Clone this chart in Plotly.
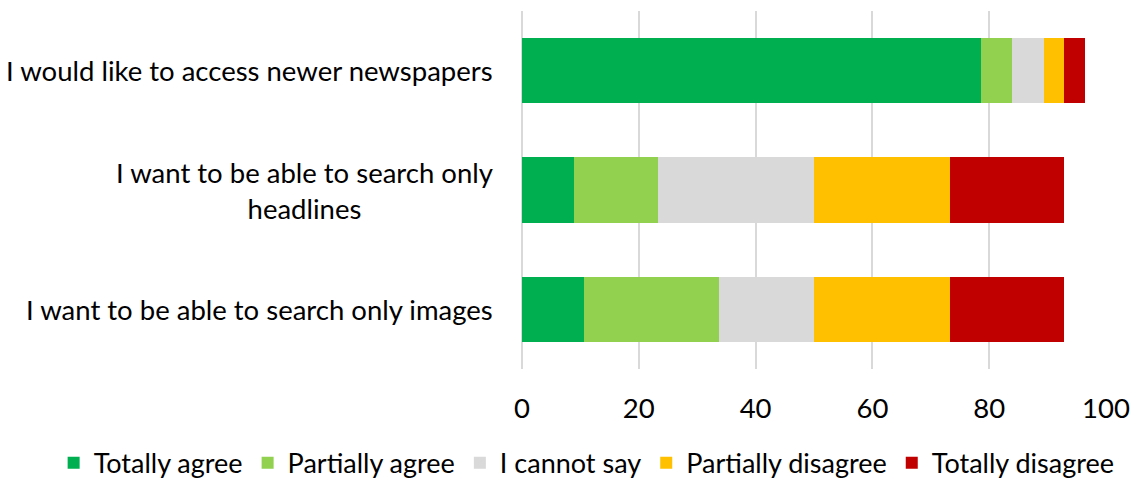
import plotly.graph_objects as go

categories = ["Q1", "Q2", "Q3"]
category_labels = [
    "I would like to access newer newspapers",
    "I want to be able to search only<br>headlines",
    "I want to be able to search only images",
]
series_names = ["Totally agree", "Partially agree", "I cannot say", "Partially disagree", "Totally disagree"]
totally_agree = [78.6, 8.9, 10.7]
partially_agree = [5.3, 14.4, 23.1]
cannot_say = [5.4, 26.7, 16.2]
partially_disagree = [3.5, 23.3, 23.3]
totally_disagree = [3.6, 19.5, 19.5]
x_ticks = [0, 20, 40, 60, 80, 100]

colors = ["#00B050", "#92D050", "#D9D9D9", "#FFC000", "#C00000"]
series_values = [totally_agree, partially_agree, cannot_say, partially_disagree, totally_disagree]

FONT = "Lato"
FS = 27.5

fig = go.Figure()
for name, vals, col in zip(series_names, series_values, colors):
    fig.add_trace(go.Bar(
        y=categories, x=vals, name=name, orientation="h",
        marker=dict(color=col, line=dict(width=0)),
    ))

for cat, lab in zip(categories, category_labels):
    fig.add_annotation(
        x=-0.046, xref="paper", y=cat, yref="y",
        text=lab, showarrow=False, xanchor="right", yanchor="middle",
        align="center", font=dict(family=FONT, size=FS, color="#000000"),
    )

fig.update_layout(
    width=1135, height=479,
    margin=dict(l=522, r=29, t=11, b=110, autoexpand=False),
    barmode="stack", bargap=0.45,
    plot_bgcolor="white", paper_bgcolor="white",
    font=dict(family=FONT, size=FS, color="#000000"),
    showlegend=True,
    legend=dict(
        orientation="h", x=-0.802, xanchor="left", y=-0.263, yanchor="middle",
        font=dict(family=FONT, size=27, color="#000000"),
        traceorder="normal", itemwidth=30, bgcolor="rgba(0,0,0,0)",
    ),
    xaxis=dict(
        range=[0, 100], tickvals=x_ticks, showgrid=True, gridcolor="#D9D9D9", gridwidth=2,
        zeroline=True, zerolinecolor="#D9D9D9", zerolinewidth=2,
        showline=False, ticks="", ticklabelstandoff=20,
        tickfont=dict(family=FONT, size=FS, color="#000000"), fixedrange=True,
    ),
    yaxis=dict(
        autorange="reversed", showticklabels=False, showgrid=False, zeroline=False,
        showline=False, ticks="",
    ),
)

fig.write_html("out.html", config={"displayModeBar": False},
               post_script="document.body.style.margin='0px';")
